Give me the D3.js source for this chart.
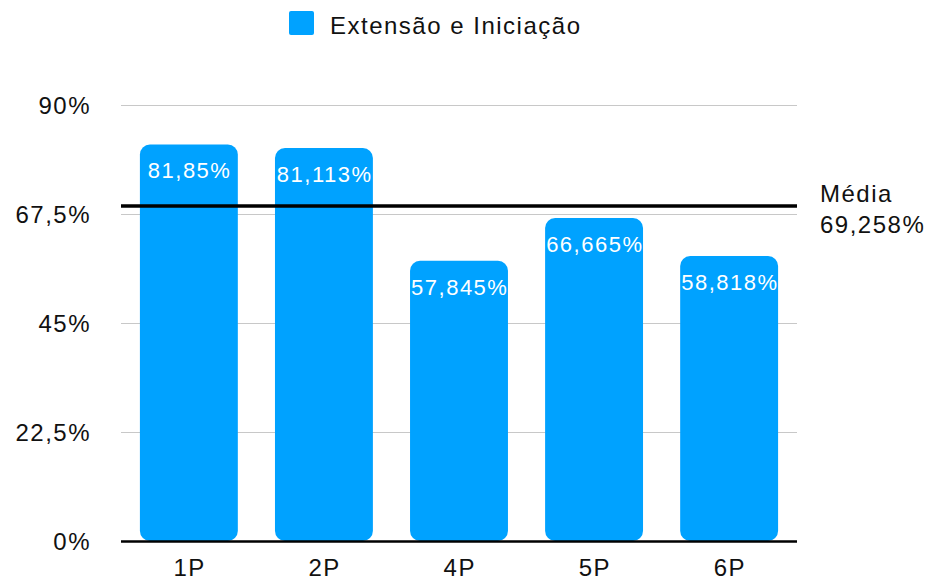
<!DOCTYPE html>
<html>
<head>
<meta charset="utf-8">
<script src="https://cdn.jsdelivr.net/npm/d3@7"></script>
<style>
  body { margin: 0; background: #fff; }
  text { font-family: "Liberation Sans", Arial, Helvetica, sans-serif; }
</style>
</head>
<body>
<div id="chart"></div>
<script>
// Chart data
const categories = ["1P", "2P", "4P", "5P", "6P"];
const values = [81.85, 81.113, 57.845, 66.665, 58.818];
const valueLabels = ["81,85%", "81,113%", "57,845%", "66,665%", "58,818%"];
const yTicks = [0, 22.5, 45, 67.5, 90];
const yTickLabels = ["0%", "22,5%", "45%", "67,5%", "90%"];
const seriesName = "Extensão e Iniciação";
const meanValue = 69.258;
const meanLabel = ["Média", "69,258%"];

const W = 929, H = 580;
const plot = { left: 121, right: 797, top: 105, bottom: 541 };
const barColor = "#00a2ff";

const svg = d3.select("#chart").append("svg")
    .attr("width", W)
    .attr("height", H);

const x = d3.scaleBand()
    .domain(categories)
    .range([plot.left, plot.right])
    .paddingInner(0.275)
    .paddingOuter(0.14);

const y = d3.scaleLinear()
    .domain([0, 90])
    .range([plot.bottom, plot.top]);

// gridlines
svg.append("g")
    .selectAll("line")
    .data(yTicks.filter(d => d > 0))
    .enter()
    .append("line")
    .attr("x1", plot.left)
    .attr("x2", plot.right)
    .attr("y1", d => y(d) + 0.5)
    .attr("y2", d => y(d) + 0.5)
    .attr("stroke", "#c8c8c8")
    .attr("stroke-width", 1);

// y tick labels
svg.append("g")
    .selectAll("text")
    .data(yTicks)
    .enter()
    .append("text")
    .attr("x", 91)
    .attr("y", d => y(d) + 9)
    .attr("text-anchor", "end")
    .attr("font-size", 24)
    .attr("letter-spacing", 1.5)
    .attr("fill", "#111")
    .text((d, i) => yTickLabels[i]);

// bars with rounded corners
svg.append("g")
    .selectAll("rect")
    .data(values)
    .enter()
    .append("rect")
    .attr("x", (d, i) => x(categories[i]))
    .attr("y", d => y(d))
    .attr("width", x.bandwidth())
    .attr("height", d => y(0) - y(d))
    .attr("rx", 10)
    .attr("fill", barColor);

// value labels inside bars
svg.append("g")
    .selectAll("text")
    .data(values)
    .enter()
    .append("text")
    .attr("x", (d, i) => x(categories[i]) + x.bandwidth() / 2 + 0.75)
    .attr("y", d => y(d) + 34)
    .attr("text-anchor", "middle")
    .attr("font-size", 22)
    .attr("letter-spacing", 1.5)
    .attr("fill", "#fff")
    .text((d, i) => valueLabels[i]);

// baseline
svg.append("line")
    .attr("x1", plot.left)
    .attr("x2", plot.right)
    .attr("y1", y(0) + 0.5)
    .attr("y2", y(0) + 0.5)
    .attr("stroke", "#000")
    .attr("stroke-width", 2.5);

// mean line
svg.append("line")
    .attr("x1", plot.left)
    .attr("x2", plot.right)
    .attr("y1", y(meanValue) + 0.5)
    .attr("y2", y(meanValue) + 0.5)
    .attr("stroke", "#000")
    .attr("stroke-width", 3.5);

svg.append("text")
    .attr("x", 820)
    .attr("y", 202)
    .attr("font-size", 24)
    .attr("letter-spacing", 1.5)
    .attr("fill", "#111")
    .selectAll("tspan")
    .data(meanLabel)
    .enter()
    .append("tspan")
    .attr("x", 820)
    .attr("dy", (d, i) => i === 0 ? 0 : 31)
    .text(d => d);

// x labels
svg.append("g")
    .selectAll("text")
    .data(categories)
    .enter()
    .append("text")
    .attr("x", d => x(d) + x.bandwidth() / 2 + 0.75)
    .attr("y", 576)
    .attr("text-anchor", "middle")
    .attr("font-size", 24)
    .attr("letter-spacing", 1.5)
    .attr("fill", "#111")
    .text(d => d);

// legend
const legend = svg.append("g");
legend.append("rect")
    .attr("x", 289)
    .attr("y", 11)
    .attr("width", 25)
    .attr("height", 24)
    .attr("rx", 2)
    .attr("fill", barColor);
legend.append("text")
    .attr("x", 330)
    .attr("y", 34)
    .attr("font-size", 24)
    .attr("letter-spacing", 1.5)
    .attr("fill", "#111")
    .text(seriesName);
</script>
</body>
</html>
